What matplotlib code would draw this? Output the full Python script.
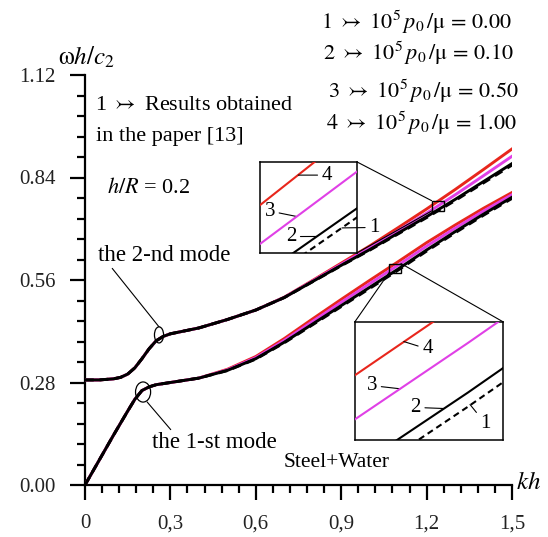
import numpy as np
import matplotlib
matplotlib.use("Agg")
import matplotlib.pyplot as plt
from matplotlib.patches import Ellipse, Rectangle, ConnectionPatch

plt.rcParams["font.family"] = ["Liberation Serif", "DejaVu Sans"]
plt.rcParams["mathtext.fontset"] = "stix"

# dispersion curves, omega*h/c2 against kh
kh = [0, 0.05, 0.1, 0.125, 0.15, 0.175, 0.2, 0.225, 0.25, 0.275, 0.3, 0.35,
      0.4, 0.5, 0.6, 0.7, 0.8, 0.9, 1.0, 1.1, 1.2, 1.3, 1.4, 1.5]

# first mode
mode1_p000 = [0.000, 0.068, 0.136, 0.169, 0.202, 0.234, 0.258, 0.268, 0.274, 0.277, 0.280, 0.286,
              0.292, 0.3125, 0.344, 0.3885, 0.438, 0.4875, 0.537, 0.587, 0.639, 0.689, 0.737, 0.783]
mode1_p010 = [0.000, 0.068, 0.136, 0.169, 0.202, 0.234, 0.258, 0.268, 0.274, 0.277, 0.280, 0.286,
              0.292, 0.313, 0.345, 0.390, 0.440, 0.490, 0.540, 0.590, 0.642, 0.692, 0.740, 0.786]
mode1_p050 = [0.000, 0.068, 0.136, 0.169, 0.202, 0.234, 0.258, 0.268, 0.274, 0.277, 0.280, 0.286,
              0.292, 0.3145, 0.348, 0.395, 0.447, 0.499, 0.550, 0.6005, 0.6525, 0.7015, 0.7485, 0.793]
mode1_p100 = [0.000, 0.068, 0.136, 0.169, 0.202, 0.234, 0.258, 0.268, 0.274, 0.277, 0.280, 0.286,
              0.292, 0.316, 0.351, 0.400, 0.454, 0.507, 0.559, 0.610, 0.662, 0.710, 0.756, 0.799]

# second mode
mode2_p000 = [0.287, 0.287, 0.290, 0.294, 0.303, 0.320, 0.345, 0.372, 0.394, 0.406, 0.413, 0.421,
              0.429, 0.452, 0.478, 0.512, 0.5555, 0.599, 0.6415, 0.686, 0.7305, 0.777, 0.8255, 0.874]
mode2_p010 = [0.287, 0.287, 0.290, 0.294, 0.303, 0.320, 0.345, 0.372, 0.394, 0.406, 0.413, 0.421,
              0.429, 0.452, 0.478, 0.512, 0.556, 0.600, 0.643, 0.688, 0.733, 0.780, 0.829, 0.878]
mode2_p050 = [0.287, 0.287, 0.290, 0.294, 0.303, 0.320, 0.345, 0.372, 0.394, 0.406, 0.413, 0.421,
              0.429, 0.452, 0.478, 0.5125, 0.5575, 0.603, 0.648, 0.695, 0.7425, 0.7925, 0.845, 0.898]
mode2_p100 = [0.287, 0.287, 0.290, 0.294, 0.303, 0.320, 0.345, 0.372, 0.394, 0.406, 0.413, 0.421,
              0.429, 0.452, 0.478, 0.513, 0.559, 0.606, 0.653, 0.703, 0.754, 0.807, 0.862, 0.918]

legend_vals = ["0.00", "0.10", "0.50", "1.00"]
xtick_labels = ["0", "0,3", "0,6", "0,9", "1,2", "1,5"]

RED = "#e8261c"
MAG = "#e040e6"

# (values, colour, dashes, zorder)
series = [
    (mode1_p100, RED, None, 3), (mode2_p100, RED, None, 3),
    (mode1_p050, MAG, None, 4), (mode2_p050, MAG, None, 4),
    (mode1_p000, "black", (0, (3, 2)), 5), (mode2_p000, "black", (0, (3, 2)), 5),
    (mode1_p010, "black", None, 6), (mode2_p010, "black", None, 6),
]


def draw_curves(a, lw):
    for vals, col, ls, z in series:
        a.plot(kh, vals, color=col, lw=lw, linestyle=ls if ls else "-", zorder=z)


fig = plt.figure(figsize=(5.48, 5.37), dpi=100)
ax = fig.add_axes([85 / 548, 52 / 537, 427 / 548, 410 / 537])
draw_curves(ax, 2.1)

ax.set_xlim(0, 1.5)
ax.set_ylim(0, 1.12)
for s in ["top", "right"]:
    ax.spines[s].set_visible(False)
for s in ["left", "bottom"]:
    ax.spines[s].set_linewidth(1.6)
ax.set_xticks(np.arange(0, 1.51, 0.3))
ax.set_xticks(np.arange(0, 1.51, 0.06), minor=True)
ax.set_xticklabels(xtick_labels)
ax.set_yticks(np.arange(0, 1.121, 0.28))
ax.set_yticks(np.arange(0, 1.121, 0.056), minor=True)
ax.set_yticklabels(["%.2f" % v for v in np.arange(0, 1.121, 0.28)])
ax.tick_params(which="major", direction="out", length=11, width=1.6,
               labelsize=15, pad=10, colors="black", labelcolor="#222222")
ax.tick_params(which="minor", direction="out", length=5.5, width=1.6)

ax.text(-0.064, 1.043, r"$\mathrm{\omega}h/c_2$", transform=ax.transAxes,
        fontsize=18, ha="left", va="center")
ax.text(1.01, 0.005, r"$kh$", transform=ax.transAxes, fontsize=18,
        ha="left", va="center", clip_on=False)

ax.text(0.035, 1.038, r"1 $\rightarrowtail$ Results obtained", fontsize=16, va="center")
ax.text(0.040, 0.951, "in the paper [13]", fontsize=16, va="center")
ax.text(0.077, 0.811, r"$h/R$ = 0.2", fontsize=16, va="center")
ax.text(0.696, 0.062, "Steel+Water", fontsize=15.5, va="center")

leg_x = [321, 323, 328, 326]
leg_y = [22, 53, 91, 123]
for i, v in enumerate(legend_vals):
    fig.text(leg_x[i] / 548, 1 - leg_y[i] / 537,
             r"$%d\ \rightarrowtail\ 10^5\,p_0\,/\mathrm{\mu}\,=\,%s$" % (i + 1, v),
             fontsize=16, ha="left", va="center")

# mode markers
ax.add_patch(Ellipse((0.26, 0.41), 0.032, 0.044, fill=False, lw=0.9, zorder=8))
ax.add_patch(Ellipse((0.204, 0.254), 0.053, 0.055, fill=False, lw=0.9, zorder=8))
ax.annotate("the 2-nd mode", xy=(0.26, 0.432), xytext=(0.046, 0.628), fontsize=16.5,
            va="center", arrowprops=dict(arrowstyle="-", lw=0.8, relpos=(0.09, 0.0),
                                         shrinkA=0, shrinkB=0))
ax.annotate("the 1-st mode", xy=(0.218, 0.227), xytext=(0.235, 0.115), fontsize=16.5,
            va="center", arrowprops=dict(arrowstyle="-", lw=0.8, relpos=(0.17, 1.0),
                                         shrinkA=0, shrinkB=0))


def make_inset(bounds, xlim, ylim, labels, corners):
    axi = ax.inset_axes(bounds)
    draw_curves(axi, 1.5)
    axi.set_xlim(*xlim)
    axi.set_ylim(*ylim)
    axi.set_xticks([])
    axi.set_yticks([])
    for s in axi.spines.values():
        s.set_linewidth(1.1)
    ax.add_patch(Rectangle((xlim[0], ylim[0]), xlim[1] - xlim[0], ylim[1] - ylim[0],
                           fill=False, lw=1.0, zorder=9))
    for (rx, ry), (bx, by) in corners:
        con = ConnectionPatch(xyA=(xlim[rx], ylim[ry]), coordsA=ax.transData,
                              xyB=(bx, by), coordsB=axi.transAxes, lw=0.8, color="black")
        con.set_zorder(1)
        fig.add_artist(con)
    for txt, tpos, lpos in labels:
        axi.annotate(txt, xy=lpos, xytext=tpos, xycoords="axes fraction",
                     textcoords="axes fraction", fontsize=15, ha="center", va="center",
                     annotation_clip=False,
                     arrowprops=dict(arrowstyle="-", lw=0.8, shrinkA=1, shrinkB=0))
    return axi


# inset on the second mode
make_inset([0.41, 0.566, 0.227, 0.222], (1.2176, 1.2624), (0.7485, 0.7767),
           [("4", (0.69, 0.855), (0.394, 0.855)),
            ("3", (0.10, 0.46), (0.38, 0.40)),
            ("2", (0.32, 0.18), (0.586, 0.181)),
            ("1", (1.18, 0.28), (0.845, 0.275))],
           [((0, 1), (1, 1)), ((0, 0), (1, 0))])

# inset on the first mode
make_inset([0.632, 0.11, 0.347, 0.288], (1.068, 1.110), (0.580, 0.605),
           [("4", (0.49, 0.77), (0.33, 0.833)),
            ("3", (0.115, 0.46), (0.304, 0.433)),
            ("2", (0.41, 0.275), (0.597, 0.266)),
            ("1", (0.88, 0.14), (0.777, 0.30))],
           [((0, 0), (0, 1)), ((1, 1), (1, 1))])

fig.savefig("out.png", dpi=100)
